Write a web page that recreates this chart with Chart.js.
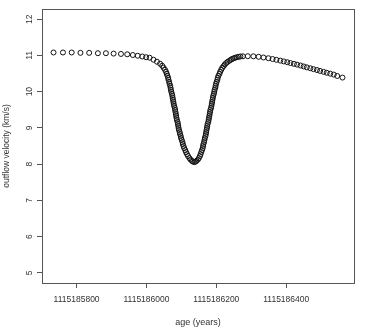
<!DOCTYPE html>
<html>
<head>
<meta charset="utf-8">
<script src="https://cdn.jsdelivr.net/npm/chart.js@4.4.1/dist/chart.umd.min.js"></script>
<style>
    body { margin: 0; background: #fff; }
    #wrap { width: 374px; height: 333px; }
</style>
</head>
<body>
<div id="wrap"><canvas id="velocityChart" width="374" height="333"></canvas></div>
<script>
// age (years) of each model step
const ages = [
    1115185734, 1115185761, 1115185786, 1115185811, 1115185836, 1115185861, 1115185884,
    1115185906, 1115185927, 1115185945, 1115185961, 1115185975, 1115185988, 1115185999,
    1115186009, 1115186020, 1115186030, 1115186039, 1115186045, 1115186049, 1115186053,
    1115186056, 1115186058, 1115186060, 1115186062, 1115186063, 1115186065, 1115186066,
    1115186068, 1115186069, 1115186070, 1115186071, 1115186073, 1115186074, 1115186075,
    1115186076, 1115186077, 1115186078, 1115186079, 1115186081, 1115186082, 1115186083,
    1115186084, 1115186085, 1115186086, 1115186087, 1115186089, 1115186090, 1115186091,
    1115186092, 1115186093, 1115186095, 1115186096, 1115186098, 1115186099, 1115186101,
    1115186103, 1115186104, 1115186106, 1115186108, 1115186111, 1115186113, 1115186116,
    1115186119, 1115186123, 1115186126, 1115186130, 1115186133, 1115186137,
    1115186140, 1115186143, 1115186147, 1115186150, 1115186153, 1115186155, 1115186157,
    1115186159, 1115186161, 1115186162, 1115186163, 1115186165, 1115186166, 1115186167,
    1115186169, 1115186170, 1115186171, 1115186172, 1115186173, 1115186174, 1115186175,
    1115186177, 1115186178, 1115186179, 1115186180, 1115186181, 1115186182, 1115186183,
    1115186185, 1115186186, 1115186187, 1115186188, 1115186189, 1115186190, 1115186191,
    1115186193, 1115186194, 1115186195, 1115186197, 1115186198, 1115186199, 1115186201,
    1115186203, 1115186204, 1115186206, 1115186209, 1115186211, 1115186214, 1115186217,
    1115186221, 1115186224, 1115186228, 1115186232, 1115186237, 1115186241, 1115186245,
    1115186250, 1115186254, 1115186259, 1115186264, 1115186269,
    1115186276, 1115186290, 1115186306, 1115186321, 1115186335, 1115186349, 1115186361,
    1115186372, 1115186383, 1115186393, 1115186403, 1115186412, 1115186422, 1115186431,
    1115186441, 1115186450, 1115186459, 1115186469, 1115186478, 1115186488, 1115186497,
    1115186507, 1115186516, 1115186526, 1115186536, 1115186546, 1115186561
];

// outflow velocity (km/s) at each age
const velocity = [
    11.08, 11.08, 11.08, 11.07, 11.07, 11.06, 11.06,
    11.05, 11.04, 11.03, 11.01, 10.99, 10.97, 10.95,
    10.936, 10.881, 10.825, 10.770, 10.715, 10.659, 10.604,
    10.548, 10.493, 10.438, 10.382, 10.327, 10.271, 10.216,
    10.161, 10.105, 10.050, 9.994, 9.939, 9.884, 9.828,
    9.773, 9.717, 9.662, 9.607, 9.551, 9.496, 9.440,
    9.385, 9.330, 9.274, 9.219, 9.163, 9.108, 9.053,
    8.997, 8.942, 8.886, 8.831, 8.776, 8.720, 8.665,
    8.609, 8.554, 8.499, 8.443, 8.388, 8.332, 8.277,
    8.222, 8.166, 8.125, 8.091, 8.069, 8.055,
    8.066, 8.089, 8.122, 8.166, 8.222, 8.277, 8.332,
    8.388, 8.443, 8.499, 8.554, 8.609, 8.665, 8.720,
    8.776, 8.831, 8.886, 8.942, 8.997, 9.053, 9.108,
    9.163, 9.219, 9.274, 9.330, 9.385, 9.440, 9.496,
    9.551, 9.607, 9.662, 9.717, 9.773, 9.828, 9.884,
    9.939, 9.994, 10.050, 10.105, 10.161, 10.216, 10.271,
    10.327, 10.382, 10.438, 10.493, 10.548, 10.604, 10.659,
    10.706, 10.748, 10.787, 10.820, 10.850, 10.878, 10.900,
    10.920, 10.936, 10.950, 10.961, 10.970,
    10.975, 10.978, 10.975, 10.961, 10.942, 10.922, 10.900,
    10.878, 10.856, 10.834, 10.812, 10.789, 10.767, 10.745,
    10.720, 10.695, 10.670, 10.645, 10.620, 10.596, 10.571,
    10.546, 10.521, 10.496, 10.471, 10.432, 10.388
];

const xTicks = [1115185800, 1115186000, 1115186200, 1115186400];
const yTicks = [5, 6, 7, 8, 9, 10, 11, 12];

const axisColor = "#555";
const textColor = "#333";
const fontFamily = "'Liberation Sans', Arial, sans-serif";

const points = ages.map((a, i) => ({ x: a, y: velocity[i] }));

// R style box around the plot + rotated y labels
const rStylePlugin = {
    id: "rStyle",
    afterDraw(chart) {
        const { ctx, chartArea } = chart;
        ctx.save();
        ctx.strokeStyle = axisColor;
        ctx.lineWidth = 1;
        ctx.strokeRect(chartArea.left + 0.5, chartArea.top + 0.5,
            chartArea.right - chartArea.left, chartArea.bottom - chartArea.top);

        const yScale = chart.scales.y;
        ctx.fillStyle = textColor;
        ctx.font = "8.5px " + fontFamily;
        ctx.textAlign = "center";
        ctx.textBaseline = "middle";
        yScale.ticks.forEach(t => {
            const py = yScale.getPixelForValue(t.value);
            ctx.save();
            ctx.translate(30, py);
            ctx.rotate(-Math.PI / 2);
            ctx.fillText(String(t.value), 0, 0);
            ctx.restore();
        });
        ctx.restore();
    }
};

new Chart(document.getElementById("velocityChart"), {
    type: "scatter",
    data: {
        datasets: [{
            data: points,
            pointStyle: "circle",
            pointRadius: 2.5,
            pointBorderWidth: 1,
            borderColor: "#111",
            backgroundColor: "rgba(0,0,0,0)"
        }]
    },
    options: {
        responsive: false,
        animation: false,
        layout: {
            padding: { left: 0, right: 20, top: 9, bottom: 0 }
        },
        plugins: {
            legend: { display: false },
            tooltip: { enabled: false }
        },
        scales: {
            x: {
                type: "linear",
                min: 1115185701,
                max: 1115186594,
                afterBuildTicks: scale => {
                    scale.ticks = xTicks.map(v => ({ value: v }));
                },
                afterFit: scale => { scale.height = 50; },
                border: { display: false },
                grid: {
                    drawOnChartArea: false,
                    drawTicks: true,
                    tickLength: 5,
                    color: axisColor
                },
                ticks: {
                    padding: 7,
                    maxRotation: 0,
                    color: textColor,
                    font: { family: fontFamily, size: 8.5 },
                    callback: v => String(v)
                },
                title: {
                    display: true,
                    text: "age (years)",
                    color: textColor,
                    font: { family: fontFamily, size: 9 },
                    padding: { top: 0, bottom: 5 }
                }
            },
            y: {
                type: "linear",
                min: 4.72,
                max: 12.28,
                afterBuildTicks: scale => {
                    scale.ticks = yTicks.map(v => ({ value: v }));
                },
                afterFit: scale => { scale.width = 42; },
                border: { display: false },
                grid: {
                    drawOnChartArea: false,
                    drawTicks: true,
                    tickLength: 5,
                    color: axisColor
                },
                ticks: { display: false },
                title: {
                    display: true,
                    text: "outflow velocity (km/s)",
                    color: textColor,
                    font: { family: fontFamily, size: 8.5 },
                    padding: { top: 2, bottom: 0 }
                }
            }
        }
    },
    plugins: [rStylePlugin]
});
</script>
</body>
</html>
